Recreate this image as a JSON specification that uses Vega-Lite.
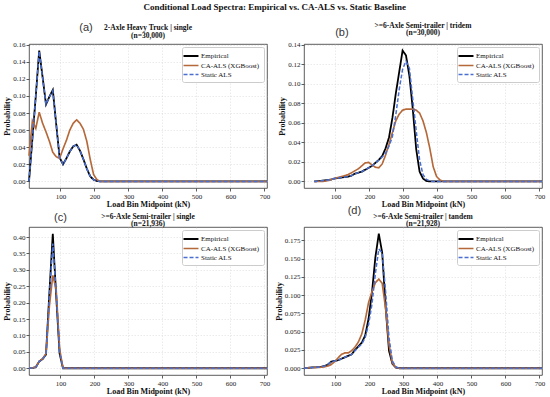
{
  "$schema": "https://vega.github.io/schema/vega-lite/v6.json",
  "padding": {"left": 3, "right": 4, "top": 2, "bottom": 1},
  "background": "white",
  "title": {"text": "Conditional Load Spectra: Empirical vs. CA-ALS vs. Static Baseline", "font": "Liberation Serif", "fontSize": 9, "fontWeight": "bold", "color": "#111", "anchor": "middle", "frame": "bounds", "offset": 10},
  "datasets": {
    "a": [
      {"x": 7.5, "Empirical": 0, "CA-ALS (XGBoost)": 0.03, "Static ALS": 0},
      {"x": 17.5, "Empirical": 0.05, "CA-ALS (XGBoost)": 0.071, "Static ALS": 0.05},
      {"x": 27.5, "Empirical": 0.1, "CA-ALS (XGBoost)": 0.062, "Static ALS": 0.1},
      {"x": 37.5, "Empirical": 0.153, "CA-ALS (XGBoost)": 0.081, "Static ALS": 0.152},
      {"x": 47.5, "Empirical": 0.122, "CA-ALS (XGBoost)": 0.068, "Static ALS": 0.121},
      {"x": 57.5, "Empirical": 0.09, "CA-ALS (XGBoost)": 0.058, "Static ALS": 0.09},
      {"x": 67.5, "Empirical": 0.099, "CA-ALS (XGBoost)": 0.047, "Static ALS": 0.099},
      {"x": 77.5, "Empirical": 0.107, "CA-ALS (XGBoost)": 0.034, "Static ALS": 0.106},
      {"x": 87.5, "Empirical": 0.067, "CA-ALS (XGBoost)": 0.029, "Static ALS": 0.067},
      {"x": 97.5, "Empirical": 0.028, "CA-ALS (XGBoost)": 0.027, "Static ALS": 0.028},
      {"x": 107.5, "Empirical": 0.02, "CA-ALS (XGBoost)": 0.038, "Static ALS": 0.02},
      {"x": 117.5, "Empirical": 0.027, "CA-ALS (XGBoost)": 0.048, "Static ALS": 0.027},
      {"x": 127.5, "Empirical": 0.035, "CA-ALS (XGBoost)": 0.06, "Static ALS": 0.035},
      {"x": 137.5, "Empirical": 0.041, "CA-ALS (XGBoost)": 0.068, "Static ALS": 0.041},
      {"x": 147.5, "Empirical": 0.043, "CA-ALS (XGBoost)": 0.072, "Static ALS": 0.043},
      {"x": 157.5, "Empirical": 0.036, "CA-ALS (XGBoost)": 0.068, "Static ALS": 0.036},
      {"x": 167.5, "Empirical": 0.026, "CA-ALS (XGBoost)": 0.061, "Static ALS": 0.026},
      {"x": 177.5, "Empirical": 0.015, "CA-ALS (XGBoost)": 0.047, "Static ALS": 0.015},
      {"x": 187.5, "Empirical": 0.006, "CA-ALS (XGBoost)": 0.026, "Static ALS": 0.006},
      {"x": 197.5, "Empirical": 0.002, "CA-ALS (XGBoost)": 0.008, "Static ALS": 0.002},
      {"x": 207.5, "Empirical": 0.0005, "CA-ALS (XGBoost)": 0.002, "Static ALS": 0.0005},
      {"x": 217.5, "Empirical": 0, "CA-ALS (XGBoost)": 0, "Static ALS": 0},
      {"x": 707.5, "Empirical": 0, "CA-ALS (XGBoost)": 0, "Static ALS": 0}
    ],
    "b": [
      {"x": 37.5, "Empirical": 0, "CA-ALS (XGBoost)": 0, "Static ALS": 0},
      {"x": 47.5, "Empirical": 0.0003, "CA-ALS (XGBoost)": 0, "Static ALS": 0.0003},
      {"x": 57.5, "Empirical": 0.0006, "CA-ALS (XGBoost)": 0, "Static ALS": 0.0006},
      {"x": 67.5, "Empirical": 0.001, "CA-ALS (XGBoost)": 0.0002, "Static ALS": 0.001},
      {"x": 77.5, "Empirical": 0.0015, "CA-ALS (XGBoost)": 0.0008, "Static ALS": 0.0015},
      {"x": 87.5, "Empirical": 0.002, "CA-ALS (XGBoost)": 0.002, "Static ALS": 0.002},
      {"x": 97.5, "Empirical": 0.003, "CA-ALS (XGBoost)": 0.003, "Static ALS": 0.003},
      {"x": 107.5, "Empirical": 0.0035, "CA-ALS (XGBoost)": 0.004, "Static ALS": 0.0035},
      {"x": 117.5, "Empirical": 0.004, "CA-ALS (XGBoost)": 0.005, "Static ALS": 0.004},
      {"x": 127.5, "Empirical": 0.0045, "CA-ALS (XGBoost)": 0.006, "Static ALS": 0.0045},
      {"x": 137.5, "Empirical": 0.005, "CA-ALS (XGBoost)": 0.007, "Static ALS": 0.005},
      {"x": 147.5, "Empirical": 0.006, "CA-ALS (XGBoost)": 0.009, "Static ALS": 0.006},
      {"x": 157.5, "Empirical": 0.008, "CA-ALS (XGBoost)": 0.011, "Static ALS": 0.008},
      {"x": 167.5, "Empirical": 0.009, "CA-ALS (XGBoost)": 0.013, "Static ALS": 0.009},
      {"x": 177.5, "Empirical": 0.01, "CA-ALS (XGBoost)": 0.016, "Static ALS": 0.01},
      {"x": 187.5, "Empirical": 0.012, "CA-ALS (XGBoost)": 0.019, "Static ALS": 0.012},
      {"x": 197.5, "Empirical": 0.014, "CA-ALS (XGBoost)": 0.0195, "Static ALS": 0.014},
      {"x": 207.5, "Empirical": 0.016, "CA-ALS (XGBoost)": 0.017, "Static ALS": 0.016},
      {"x": 217.5, "Empirical": 0.019, "CA-ALS (XGBoost)": 0.0145, "Static ALS": 0.019},
      {"x": 227.5, "Empirical": 0.022, "CA-ALS (XGBoost)": 0.014, "Static ALS": 0.022},
      {"x": 237.5, "Empirical": 0.026, "CA-ALS (XGBoost)": 0.018, "Static ALS": 0.025},
      {"x": 247.5, "Empirical": 0.034, "CA-ALS (XGBoost)": 0.027, "Static ALS": 0.029},
      {"x": 257.5, "Empirical": 0.045, "CA-ALS (XGBoost)": 0.038, "Static ALS": 0.036},
      {"x": 267.5, "Empirical": 0.065, "CA-ALS (XGBoost)": 0.05, "Static ALS": 0.046},
      {"x": 277.5, "Empirical": 0.09, "CA-ALS (XGBoost)": 0.062, "Static ALS": 0.068},
      {"x": 287.5, "Empirical": 0.112, "CA-ALS (XGBoost)": 0.069, "Static ALS": 0.094},
      {"x": 297.5, "Empirical": 0.134, "CA-ALS (XGBoost)": 0.073, "Static ALS": 0.115},
      {"x": 307.5, "Empirical": 0.129, "CA-ALS (XGBoost)": 0.074, "Static ALS": 0.123},
      {"x": 317.5, "Empirical": 0.108, "CA-ALS (XGBoost)": 0.074, "Static ALS": 0.116},
      {"x": 327.5, "Empirical": 0.074, "CA-ALS (XGBoost)": 0.074, "Static ALS": 0.084},
      {"x": 337.5, "Empirical": 0.033, "CA-ALS (XGBoost)": 0.073, "Static ALS": 0.052},
      {"x": 347.5, "Empirical": 0.01, "CA-ALS (XGBoost)": 0.07, "Static ALS": 0.022},
      {"x": 357.5, "Empirical": 0.003, "CA-ALS (XGBoost)": 0.062, "Static ALS": 0.007},
      {"x": 367.5, "Empirical": 0.0005, "CA-ALS (XGBoost)": 0.05, "Static ALS": 0.002},
      {"x": 377.5, "Empirical": 0, "CA-ALS (XGBoost)": 0.034, "Static ALS": 0.0005},
      {"x": 387.5, "Empirical": 0, "CA-ALS (XGBoost)": 0.015, "Static ALS": 0},
      {"x": 397.5, "Empirical": 0, "CA-ALS (XGBoost)": 0.005, "Static ALS": 0},
      {"x": 407.5, "Empirical": 0, "CA-ALS (XGBoost)": 0.0015, "Static ALS": 0},
      {"x": 417.5, "Empirical": 0, "CA-ALS (XGBoost)": 0, "Static ALS": 0},
      {"x": 707.5, "Empirical": 0, "CA-ALS (XGBoost)": 0, "Static ALS": 0}
    ],
    "c": [
      {"x": 7.5, "Empirical": 0.001, "CA-ALS (XGBoost)": 0.001, "Static ALS": 0.001},
      {"x": 17.5, "Empirical": 0.001, "CA-ALS (XGBoost)": 0.001, "Static ALS": 0.001},
      {"x": 27.5, "Empirical": 0.003, "CA-ALS (XGBoost)": 0.004, "Static ALS": 0.003},
      {"x": 37.5, "Empirical": 0.021, "CA-ALS (XGBoost)": 0.021, "Static ALS": 0.021},
      {"x": 47.5, "Empirical": 0.028, "CA-ALS (XGBoost)": 0.029, "Static ALS": 0.028},
      {"x": 57.5, "Empirical": 0.042, "CA-ALS (XGBoost)": 0.045, "Static ALS": 0.042},
      {"x": 67.5, "Empirical": 0.23, "CA-ALS (XGBoost)": 0.19, "Static ALS": 0.22},
      {"x": 77.5, "Empirical": 0.41, "CA-ALS (XGBoost)": 0.283, "Static ALS": 0.38},
      {"x": 87.5, "Empirical": 0.22, "CA-ALS (XGBoost)": 0.24, "Static ALS": 0.23},
      {"x": 97.5, "Empirical": 0.045, "CA-ALS (XGBoost)": 0.06, "Static ALS": 0.05},
      {"x": 107.5, "Empirical": 0, "CA-ALS (XGBoost)": 0, "Static ALS": 0},
      {"x": 707.5, "Empirical": 0, "CA-ALS (XGBoost)": 0, "Static ALS": 0}
    ],
    "d": [
      {"x": 7.5, "Empirical": 0, "CA-ALS (XGBoost)": 0, "Static ALS": 0},
      {"x": 17.5, "Empirical": 0.0005, "CA-ALS (XGBoost)": 0.0005, "Static ALS": 0.0005},
      {"x": 27.5, "Empirical": 0.001, "CA-ALS (XGBoost)": 0.001, "Static ALS": 0.001},
      {"x": 37.5, "Empirical": 0.0012, "CA-ALS (XGBoost)": 0.001, "Static ALS": 0.0012},
      {"x": 47.5, "Empirical": 0.0015, "CA-ALS (XGBoost)": 0.0012, "Static ALS": 0.0015},
      {"x": 57.5, "Empirical": 0.002, "CA-ALS (XGBoost)": 0.0015, "Static ALS": 0.002},
      {"x": 67.5, "Empirical": 0.003, "CA-ALS (XGBoost)": 0.002, "Static ALS": 0.003},
      {"x": 77.5, "Empirical": 0.005, "CA-ALS (XGBoost)": 0.003, "Static ALS": 0.005},
      {"x": 87.5, "Empirical": 0.009, "CA-ALS (XGBoost)": 0.005, "Static ALS": 0.009},
      {"x": 97.5, "Empirical": 0.01, "CA-ALS (XGBoost)": 0.009, "Static ALS": 0.01},
      {"x": 107.5, "Empirical": 0.011, "CA-ALS (XGBoost)": 0.014, "Static ALS": 0.011},
      {"x": 117.5, "Empirical": 0.013, "CA-ALS (XGBoost)": 0.019, "Static ALS": 0.013},
      {"x": 127.5, "Empirical": 0.015, "CA-ALS (XGBoost)": 0.021, "Static ALS": 0.015},
      {"x": 137.5, "Empirical": 0.017, "CA-ALS (XGBoost)": 0.021, "Static ALS": 0.017},
      {"x": 147.5, "Empirical": 0.019, "CA-ALS (XGBoost)": 0.024, "Static ALS": 0.019},
      {"x": 157.5, "Empirical": 0.025, "CA-ALS (XGBoost)": 0.029, "Static ALS": 0.024},
      {"x": 167.5, "Empirical": 0.03, "CA-ALS (XGBoost)": 0.036, "Static ALS": 0.029},
      {"x": 177.5, "Empirical": 0.035, "CA-ALS (XGBoost)": 0.047, "Static ALS": 0.033},
      {"x": 187.5, "Empirical": 0.045, "CA-ALS (XGBoost)": 0.066, "Static ALS": 0.042},
      {"x": 197.5, "Empirical": 0.068, "CA-ALS (XGBoost)": 0.09, "Static ALS": 0.06},
      {"x": 207.5, "Empirical": 0.104, "CA-ALS (XGBoost)": 0.105, "Static ALS": 0.088},
      {"x": 217.5, "Empirical": 0.152, "CA-ALS (XGBoost)": 0.117, "Static ALS": 0.13},
      {"x": 227.5, "Empirical": 0.184, "CA-ALS (XGBoost)": 0.122, "Static ALS": 0.163},
      {"x": 237.5, "Empirical": 0.158, "CA-ALS (XGBoost)": 0.116, "Static ALS": 0.158},
      {"x": 247.5, "Empirical": 0.085, "CA-ALS (XGBoost)": 0.082, "Static ALS": 0.105},
      {"x": 257.5, "Empirical": 0.024, "CA-ALS (XGBoost)": 0.032, "Static ALS": 0.042},
      {"x": 267.5, "Empirical": 0.006, "CA-ALS (XGBoost)": 0.007, "Static ALS": 0.01},
      {"x": 277.5, "Empirical": 0.001, "CA-ALS (XGBoost)": 0.001, "Static ALS": 0.002},
      {"x": 287.5, "Empirical": 0, "CA-ALS (XGBoost)": 0, "Static ALS": 0},
      {"x": 707.5, "Empirical": 0, "CA-ALS (XGBoost)": 0, "Static ALS": 0}
    ]
  },
  "columns": 2,
  "spacing": {"row": -5, "column": 3},
  "resolve": {
    "scale": {"x": "independent", "y": "independent", "color": "independent", "strokeDash": "independent", "strokeWidth": "independent"},
    "legend": {"color": "independent", "strokeDash": "independent", "strokeWidth": "independent"}
  },
  "concat": [
    {
      "width": 238, "height": 144,
      "title": {"text": ["2-Axle Heavy Truck | single", "(n=30,000)"], "offset": -17},
      "layer": [
        {
          "data": {"name": "a"},
          "transform": [{"fold": ["Empirical", "CA-ALS (XGBoost)", "Static ALS"], "as": ["series", "p"]}],
          "mark": {"type": "line"},
          "encoding": {
            "x": {"field": "x", "type": "quantitative", "scale": {"domain": [7.5, 707.5], "nice": false, "zero": false}, "axis": {"values": [100, 200, 300, 400, 500, 600, 700], "tickCount": 30, "format": "d", "labelOverlap": false, "title": "Load Bin Midpoint (kN)"}},
            "y": {"field": "p", "type": "quantitative", "scale": {"domain": [-0.00765, 0.16065], "nice": false, "zero": false}, "axis": {"values": [0, 0.02, 0.04, 0.06, 0.08, 0.1, 0.12, 0.14, 0.16], "tickCount": 30, "format": ".2f", "labelOverlap": false, "title": "Probability"}},
            "color": {"field": "series", "type": "nominal", "scale": {"domain": ["Empirical", "CA-ALS (XGBoost)", "Static ALS"], "range": ["#000000", "#b5693a", "#4a6fd0"]}, "legend": {"title": null}},
            "strokeDash": {"field": "series", "type": "nominal", "scale": {"domain": ["Empirical", "CA-ALS (XGBoost)", "Static ALS"], "range": [[1, 0], [1, 0], [4, 2]]}, "legend": {"title": null}},
            "strokeWidth": {"field": "series", "type": "nominal", "scale": {"domain": ["Empirical", "CA-ALS (XGBoost)", "Static ALS"], "range": [1.8, 1.5, 1.3]}, "legend": {"title": null}}
          }
        },
        {
          "data": {"values": [{"label": "(a)"}]},
          "mark": {"type": "text", "font": "Liberation Sans", "fontSize": 11, "baseline": "middle", "align": "center", "color": "#333"},
          "encoding": {"x": {"datum": 175}, "y": {"datum": 0.179}, "text": {"field": "label"}}
        }
      ]
    },
    {
      "width": 238, "height": 144,
      "title": {"text": [">=6-Axle Semi-trailer | tridem", "(n=30,000)"], "offset": -10},
      "layer": [
        {
          "data": {"name": "b"},
          "transform": [{"fold": ["Empirical", "CA-ALS (XGBoost)", "Static ALS"], "as": ["series", "p"]}],
          "mark": {"type": "line"},
          "encoding": {
            "x": {"field": "x", "type": "quantitative", "scale": {"domain": [7.5, 707.5], "nice": false, "zero": false}, "axis": {"values": [100, 200, 300, 400, 500, 600, 700], "tickCount": 30, "format": "d", "labelOverlap": false, "title": "Load Bin Midpoint (kN)"}},
            "y": {"field": "p", "type": "quantitative", "scale": {"domain": [-0.0067, 0.1407], "nice": false, "zero": false}, "axis": {"values": [0, 0.02, 0.04, 0.06, 0.08, 0.1, 0.12, 0.14], "tickCount": 30, "format": ".2f", "labelOverlap": false, "title": "Probability"}},
            "color": {"field": "series", "type": "nominal", "scale": {"domain": ["Empirical", "CA-ALS (XGBoost)", "Static ALS"], "range": ["#000000", "#b5693a", "#4a6fd0"]}, "legend": {"title": null}},
            "strokeDash": {"field": "series", "type": "nominal", "scale": {"domain": ["Empirical", "CA-ALS (XGBoost)", "Static ALS"], "range": [[1, 0], [1, 0], [4, 2]]}, "legend": {"title": null}},
            "strokeWidth": {"field": "series", "type": "nominal", "scale": {"domain": ["Empirical", "CA-ALS (XGBoost)", "Static ALS"], "range": [1.8, 1.5, 1.3]}, "legend": {"title": null}}
          }
        },
        {
          "data": {"values": [{"label": "(b)"}]},
          "mark": {"type": "text", "font": "Liberation Sans", "fontSize": 11, "baseline": "middle", "align": "center", "color": "#333"},
          "encoding": {"x": {"datum": 119}, "y": {"datum": 0.152}, "text": {"field": "label"}}
        }
      ]
    },
    {
      "width": 238, "height": 148,
      "title": {"text": [">=6-Axle Semi-trailer | single", "(n=21,936)"], "offset": -16},
      "layer": [
        {
          "data": {"name": "c"},
          "transform": [{"fold": ["Empirical", "CA-ALS (XGBoost)", "Static ALS"], "as": ["series", "p"]}],
          "mark": {"type": "line"},
          "encoding": {
            "x": {"field": "x", "type": "quantitative", "scale": {"domain": [7.5, 707.5], "nice": false, "zero": false}, "axis": {"values": [100, 200, 300, 400, 500, 600, 700], "tickCount": 30, "format": "d", "labelOverlap": false, "title": "Load Bin Midpoint (kN)"}},
            "y": {"field": "p", "type": "quantitative", "scale": {"domain": [-0.0205, 0.4305], "nice": false, "zero": false}, "axis": {"values": [0, 0.05, 0.1, 0.15, 0.2, 0.25, 0.3, 0.35, 0.4], "tickCount": 30, "format": ".2f", "labelOverlap": false, "title": "Probability"}},
            "color": {"field": "series", "type": "nominal", "scale": {"domain": ["Empirical", "CA-ALS (XGBoost)", "Static ALS"], "range": ["#000000", "#b5693a", "#4a6fd0"]}, "legend": {"title": null}},
            "strokeDash": {"field": "series", "type": "nominal", "scale": {"domain": ["Empirical", "CA-ALS (XGBoost)", "Static ALS"], "range": [[1, 0], [1, 0], [4, 2]]}, "legend": {"title": null}},
            "strokeWidth": {"field": "series", "type": "nominal", "scale": {"domain": ["Empirical", "CA-ALS (XGBoost)", "Static ALS"], "range": [1.8, 1.5, 1.3]}, "legend": {"title": null}}
          }
        },
        {
          "data": {"values": [{"label": "(c)"}]},
          "mark": {"type": "text", "font": "Liberation Sans", "fontSize": 11, "baseline": "middle", "align": "center", "color": "#333"},
          "encoding": {"x": {"datum": 100}, "y": {"datum": 0.459}, "text": {"field": "label"}}
        }
      ]
    },
    {
      "width": 238, "height": 148,
      "title": {"text": [">=6-Axle Semi-trailer | tandem", "(n=21,928)"], "offset": -23},
      "layer": [
        {
          "data": {"name": "d"},
          "transform": [{"fold": ["Empirical", "CA-ALS (XGBoost)", "Static ALS"], "as": ["series", "p"]}],
          "mark": {"type": "line"},
          "encoding": {
            "x": {"field": "x", "type": "quantitative", "scale": {"domain": [7.5, 707.5], "nice": false, "zero": false}, "axis": {"values": [100, 200, 300, 400, 500, 600, 700], "tickCount": 30, "format": "d", "labelOverlap": false, "title": "Load Bin Midpoint (kN)"}},
            "y": {"field": "p", "type": "quantitative", "scale": {"domain": [-0.0092, 0.1932], "nice": false, "zero": false}, "axis": {"values": [0, 0.025, 0.05, 0.075, 0.1, 0.125, 0.15, 0.175], "tickCount": 30, "format": ".3f", "labelOverlap": false, "title": "Probability"}},
            "color": {"field": "series", "type": "nominal", "scale": {"domain": ["Empirical", "CA-ALS (XGBoost)", "Static ALS"], "range": ["#000000", "#b5693a", "#4a6fd0"]}, "legend": {"title": null}},
            "strokeDash": {"field": "series", "type": "nominal", "scale": {"domain": ["Empirical", "CA-ALS (XGBoost)", "Static ALS"], "range": [[1, 0], [1, 0], [4, 2]]}, "legend": {"title": null}},
            "strokeWidth": {"field": "series", "type": "nominal", "scale": {"domain": ["Empirical", "CA-ALS (XGBoost)", "Static ALS"], "range": [1.8, 1.5, 1.3]}, "legend": {"title": null}}
          }
        },
        {
          "data": {"values": [{"label": "(d)"}]},
          "mark": {"type": "text", "font": "Liberation Sans", "fontSize": 11, "baseline": "middle", "align": "center", "color": "#333"},
          "encoding": {"x": {"datum": 155.7}, "y": {"datum": 0.2155}, "text": {"field": "label"}}
        }
      ]
    }
  ],
  "config": {
    "font": "Liberation Serif",
    "view": {"stroke": "#333", "strokeWidth": 0.8},
    "title": {"font": "Liberation Serif", "fontSize": 7.5, "fontWeight": "bold", "color": "#111", "lineHeight": 7.5, "anchor": "middle", "frame": "group"},
    "axis": {
      "labelFont": "Liberation Serif", "labelFontSize": 7, "labelColor": "#222", "labelPadding": 1, "labelOverlap": false,
      "titleFont": "Liberation Serif", "titleFontSize": 8, "titleFontWeight": "bold", "titleColor": "#111", "titlePadding": 1,
      "domain": false, "tickColor": "#333", "tickSize": 3, "tickWidth": 0.8,
      "grid": true, "gridColor": "#d0d0d0", "gridDash": [1.5, 1.5], "gridWidth": 0.6, "gridOpacity": 0.7
    },
    "legend": {
      "orient": "top-right", "offset": 3, "padding": 4, "fillColor": "white", "strokeColor": "#cccccc", "cornerRadius": 2,
      "labelFont": "Liberation Serif", "labelFontSize": 7, "labelColor": "#111", "labelOffset": 5,
      "symbolType": "M-2,0H2", "symbolSize": 56, "rowPadding": 0.5
    }
  }
}
